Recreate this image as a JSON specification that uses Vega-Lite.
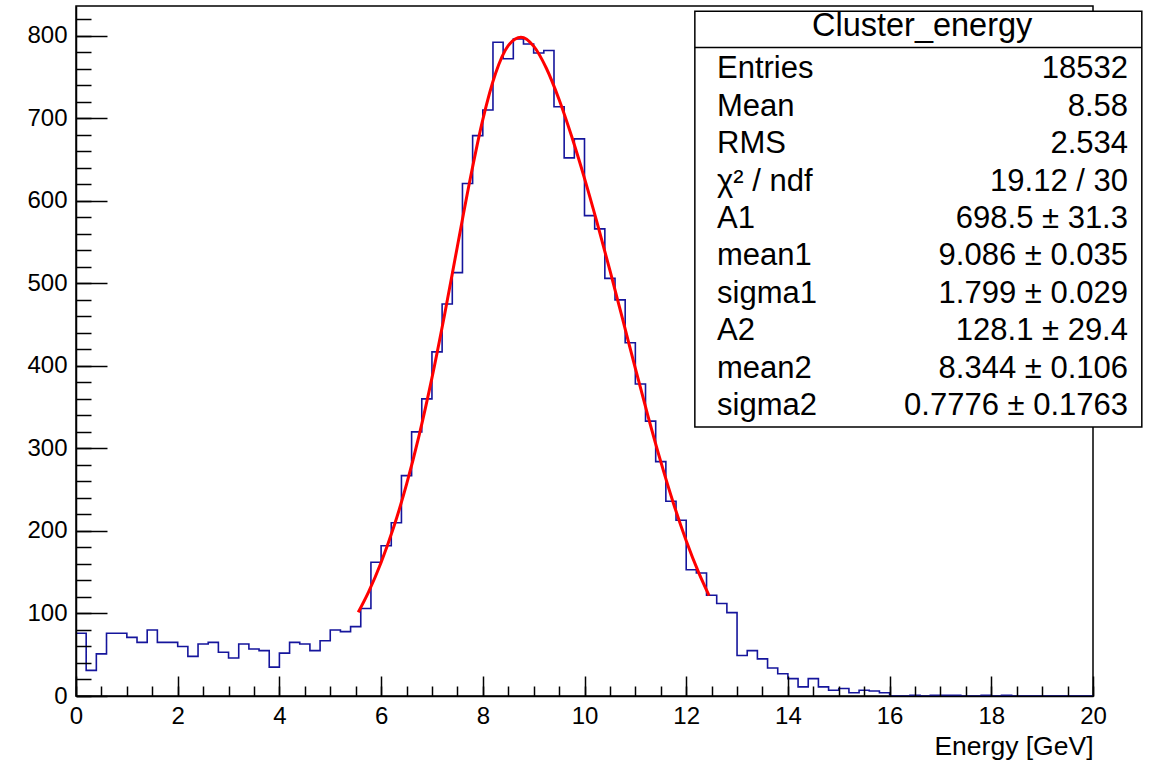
{
  "$schema": "https://vega.github.io/schema/vega-lite/v6.json",
  "width": 1017,
  "height": 690,
  "autosize": {"type": "none"},
  "padding": {"left": 76, "top": 6, "right": 66, "bottom": 65},
  "background": "white",
  "config": {
    "view": {"stroke": "#000000", "strokeWidth": 1.5},
    "font": "Liberation Sans",
    "text": {"font": "Liberation Sans"}
  },
  "datasets": {
    "hist": [
      {"E": 0, "n": 76}, {"E": 0.2, "n": 31}, {"E": 0.4, "n": 51}, {"E": 0.6, "n": 76}, {"E": 0.8, "n": 76},
      {"E": 1, "n": 71}, {"E": 1.2, "n": 65}, {"E": 1.4, "n": 80}, {"E": 1.6, "n": 65}, {"E": 1.8, "n": 65},
      {"E": 2, "n": 60}, {"E": 2.2, "n": 48}, {"E": 2.4, "n": 63}, {"E": 2.6, "n": 65}, {"E": 2.8, "n": 53},
      {"E": 3, "n": 46}, {"E": 3.2, "n": 63}, {"E": 3.4, "n": 57}, {"E": 3.6, "n": 55}, {"E": 3.8, "n": 35},
      {"E": 4, "n": 52}, {"E": 4.2, "n": 65}, {"E": 4.4, "n": 63}, {"E": 4.6, "n": 55}, {"E": 4.8, "n": 67},
      {"E": 5, "n": 80}, {"E": 5.2, "n": 78}, {"E": 5.4, "n": 84}, {"E": 5.6, "n": 106}, {"E": 5.8, "n": 162},
      {"E": 6, "n": 182}, {"E": 6.2, "n": 210}, {"E": 6.4, "n": 267}, {"E": 6.6, "n": 320}, {"E": 6.8, "n": 360},
      {"E": 7, "n": 417}, {"E": 7.2, "n": 475}, {"E": 7.4, "n": 513}, {"E": 7.6, "n": 621}, {"E": 7.8, "n": 679},
      {"E": 8, "n": 710}, {"E": 8.2, "n": 792}, {"E": 8.4, "n": 772}, {"E": 8.6, "n": 796}, {"E": 8.8, "n": 790},
      {"E": 9, "n": 779}, {"E": 9.2, "n": 782}, {"E": 9.4, "n": 714}, {"E": 9.6, "n": 652}, {"E": 9.8, "n": 675},
      {"E": 10, "n": 582}, {"E": 10.2, "n": 566}, {"E": 10.4, "n": 506}, {"E": 10.6, "n": 480}, {"E": 10.8, "n": 428},
      {"E": 11, "n": 378}, {"E": 11.2, "n": 333}, {"E": 11.4, "n": 284}, {"E": 11.6, "n": 236}, {"E": 11.8, "n": 213},
      {"E": 12, "n": 153}, {"E": 12.2, "n": 149}, {"E": 12.4, "n": 122}, {"E": 12.6, "n": 112}, {"E": 12.8, "n": 101},
      {"E": 13, "n": 49}, {"E": 13.2, "n": 55}, {"E": 13.4, "n": 45}, {"E": 13.6, "n": 34}, {"E": 13.8, "n": 27},
      {"E": 14, "n": 21}, {"E": 14.2, "n": 11}, {"E": 14.4, "n": 21}, {"E": 14.6, "n": 11}, {"E": 14.8, "n": 7},
      {"E": 15, "n": 9}, {"E": 15.2, "n": 4}, {"E": 15.4, "n": 7}, {"E": 15.6, "n": 6}, {"E": 15.8, "n": 4},
      {"E": 16, "n": 0}, {"E": 16.2, "n": 0}, {"E": 16.4, "n": 1}, {"E": 16.6, "n": 0}, {"E": 16.8, "n": 1},
      {"E": 17, "n": 1}, {"E": 17.2, "n": 1}, {"E": 17.4, "n": 0}, {"E": 17.6, "n": 0}, {"E": 17.8, "n": 1},
      {"E": 18, "n": 0}, {"E": 18.2, "n": 1}, {"E": 18.4, "n": 0}, {"E": 18.6, "n": 0}, {"E": 18.8, "n": 0},
      {"E": 19, "n": 0}, {"E": 19.2, "n": 0}, {"E": 19.4, "n": 0}, {"E": 19.6, "n": 0}, {"E": 19.8, "n": 0},
      {"E": 20, "n": 0}
    ],
    "fit": [
      {"E": 5.55, "f": 101.4}, {"E": 5.75, "f": 125.6}, {"E": 6.0, "f": 161.8}, {"E": 6.25, "f": 205.0},
      {"E": 6.5, "f": 256.3}, {"E": 6.75, "f": 316.3}, {"E": 7.0, "f": 385.4}, {"E": 7.25, "f": 462.6},
      {"E": 7.5, "f": 544.7}, {"E": 7.75, "f": 625.8}, {"E": 8.0, "f": 698.3}, {"E": 8.25, "f": 754.2},
      {"E": 8.5, "f": 788.0}, {"E": 8.75, "f": 798.2}, {"E": 9.0, "f": 787.4}, {"E": 9.25, "f": 760.6},
      {"E": 9.5, "f": 722.7}, {"E": 9.75, "f": 677.5}, {"E": 10.0, "f": 627.2}, {"E": 10.25, "f": 572.9},
      {"E": 10.5, "f": 515.6}, {"E": 10.75, "f": 456.5}, {"E": 11.0, "f": 397.0}, {"E": 11.25, "f": 338.9},
      {"E": 11.5, "f": 283.9}, {"E": 11.75, "f": 233.3}, {"E": 12.0, "f": 188.1}, {"E": 12.25, "f": 148.8},
      {"E": 12.45, "f": 121.6}
    ],
    "stats": [
      {"name": "Entries", "value": "18532"},
      {"name": "Mean", "value": "8.58"},
      {"name": "RMS", "value": "2.534"},
      {"name": "χ² / ndf", "value": "19.12 / 30"},
      {"name": "A1", "value": "698.5 ± 31.3"},
      {"name": "mean1", "value": "9.086 ± 0.035"},
      {"name": "sigma1", "value": "1.799 ± 0.029"},
      {"name": "A2", "value": "128.1 ± 29.4"},
      {"name": "mean2", "value": "8.344 ± 0.106"},
      {"name": "sigma2", "value": "0.7776 ± 0.1763"}
    ],
    "title": [{"t": "Cluster_energy"}]
  },
  "layer": [
    {
      "layer": [
        {
          "data": {"name": "hist"},
          "mark": {"type": "line", "interpolate": "step-after", "color": "#15159c", "strokeWidth": 1.6},
          "encoding": {
            "x": {"field": "E", "type": "quantitative", "scale": {"domain": [0, 20], "nice": false, "zero": false},
              "axis": {"orient": "bottom", "values": [0, 2, 4, 6, 8, 10, 12, 14, 16, 18, 20], "ticks": false, "domain": true,
                "domainColor": "#000000", "domainWidth": 1.5, "labelFontSize": 24, "labelColor": "#000000", "labelPadding": 8,
                "labelFlush": false, "labelOverlap": false, "grid": false, "zindex": 1,
                "title": "Energy [GeV]", "titleAnchor": "end", "titleAlign": "right", "titleFontSize": 26.5,
                "titleFontWeight": "normal", "titleColor": "#000000", "titlePadding": 5}},
            "y": {"field": "n", "type": "quantitative", "scale": {"domain": [0, 836], "nice": false, "zero": false},
              "axis": {"orient": "left", "values": [0, 100, 200, 300, 400, 500, 600, 700, 800], "ticks": false, "domain": true,
                "domainColor": "#000000", "domainWidth": 1.5, "labelFontSize": 24, "labelColor": "#000000", "labelPadding": 9,
                "labelFlush": false, "labelOverlap": false, "grid": false, "zindex": 1, "title": null}}
          }
        },
        {
          "data": {"name": "fit"},
          "mark": {"type": "line", "interpolate": "monotone", "color": "#ff0000", "strokeWidth": 3},
          "encoding": {
            "x": {"field": "E", "type": "quantitative", "scale": {"domain": [0, 20], "nice": false, "zero": false},
              "axis": {"orient": "bottom", "values": [0, 2, 4, 6, 8, 10, 12, 14, 16, 18, 20], "ticks": true, "tickSize": -20,
                "tickColor": "#000000", "tickWidth": 1.5, "labels": false, "domain": false, "grid": false, "title": null, "zindex": 1}},
            "y": {"field": "f", "type": "quantitative", "scale": {"domain": [0, 836], "nice": false, "zero": false},
              "axis": {"orient": "left", "values": [0, 100, 200, 300, 400, 500, 600, 700, 800], "ticks": true, "tickSize": -31,
                "tickColor": "#000000", "tickWidth": 1.5, "labels": false, "domain": false, "grid": false, "title": null, "zindex": 1}}
          }
        },
        {
          "data": {"name": "title"},
          "mark": {"type": "rect", "fill": "#ffffff", "stroke": "#000000", "strokeWidth": 1.5},
          "encoding": {
            "x": {"datum": 12.17, "type": "quantitative", "scale": {"domain": [0, 20], "nice": false, "zero": false},
              "axis": {"orient": "bottom", "values": [0, 0.5, 1, 1.5, 2, 2.5, 3, 3.5, 4, 4.5, 5, 5.5, 6, 6.5, 7, 7.5, 8, 8.5, 9, 9.5, 10, 10.5, 11, 11.5, 12, 12.5, 13, 13.5, 14, 14.5, 15, 15.5, 16, 16.5, 17, 17.5, 18, 18.5, 19, 19.5, 20],
                "ticks": true, "tickSize": -10, "tickColor": "#000000", "tickWidth": 1.5, "labels": false, "domain": false, "grid": false, "title": null, "zindex": 1}},
            "x2": {"datum": 20.96},
            "y": {"datum": 829.5, "type": "quantitative", "scale": {"domain": [0, 836], "nice": false, "zero": false},
              "axis": {"orient": "left", "values": [0, 20, 40, 60, 80, 100, 120, 140, 160, 180, 200, 220, 240, 260, 280, 300, 320, 340, 360, 380, 400, 420, 440, 460, 480, 500, 520, 540, 560, 580, 600, 620, 640, 660, 680, 700, 720, 740, 760, 780, 800, 820],
                "ticks": true, "tickSize": -15, "tickColor": "#000000", "tickWidth": 1.5, "labels": false, "domain": false, "grid": false, "title": null, "zindex": 1}},
            "y2": {"datum": 326}
          }
        },
        {
          "data": {"name": "title"},
          "mark": {"type": "rule", "color": "#000000", "strokeWidth": 1.5},
          "encoding": {
            "x": {"datum": 12.17, "type": "quantitative", "axis": null},
            "x2": {"datum": 20.96},
            "y": {"datum": 785.8, "type": "quantitative", "axis": null}
          }
        },
        {
          "data": {"name": "title"},
          "mark": {"type": "text", "align": "center", "baseline": "alphabetic", "fontSize": 32.5, "color": "#000000"},
          "encoding": {
            "x": {"datum": 16.64, "type": "quantitative", "axis": null},
            "y": {"datum": 799.2, "type": "quantitative", "axis": null},
            "text": {"field": "t"}
          }
        }
      ],
      "resolve": {"axis": {"x": "independent", "y": "independent"}}
    },
    {
      "data": {"name": "stats"},
      "layer": [
        {
          "mark": {"type": "text", "align": "left", "baseline": "alphabetic", "fontSize": 31, "color": "#000000"},
          "encoding": {
            "x": {"datum": 12.606, "type": "quantitative", "axis": null},
            "y": {"field": "name", "type": "nominal", "sort": null, "scale": {"type": "point", "range": [72.3, 409], "padding": 0}, "axis": null},
            "text": {"field": "name"}
          }
        },
        {
          "mark": {"type": "text", "align": "right", "baseline": "alphabetic", "fontSize": 31, "color": "#000000"},
          "encoding": {
            "x": {"datum": 20.688, "type": "quantitative", "axis": null},
            "y": {"field": "name", "type": "nominal", "sort": null, "axis": null},
            "text": {"field": "value"}
          }
        }
      ]
    }
  ],
  "resolve": {"scale": {"y": "independent"}, "axis": {"x": "independent", "y": "independent"}}
}
